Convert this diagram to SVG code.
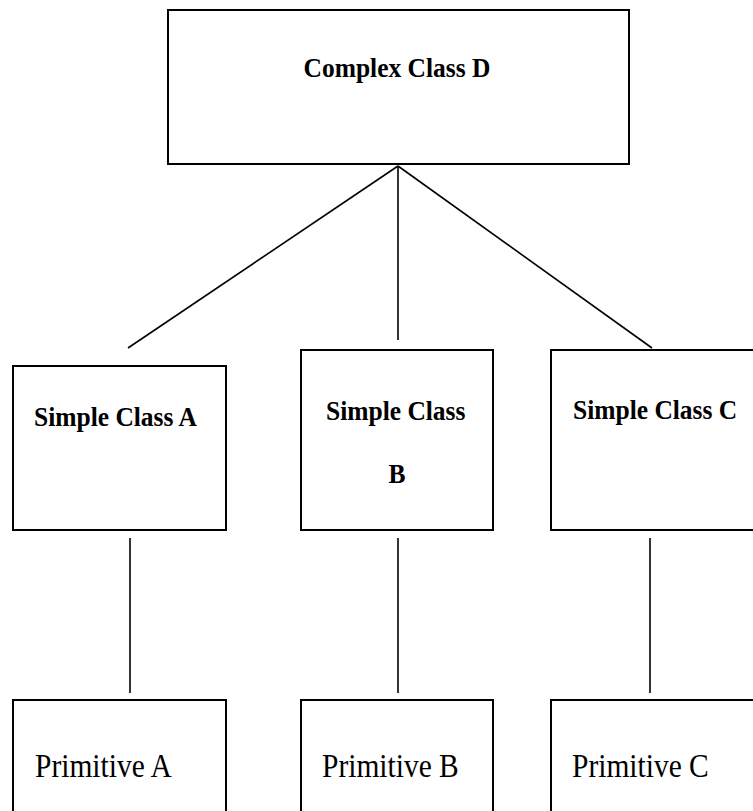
<svg xmlns="http://www.w3.org/2000/svg" width="753" height="811" viewBox="0 0 753 811">
  <style>
    .box { fill: #ffffff; stroke: #000000; stroke-width: 2; }
    .link { stroke: #000000; stroke-width: 1.6; fill: none; }
    .cls { font-family: "Liberation Serif", "Times New Roman", serif; font-weight: bold; font-size: 25.5px; fill: #000000; }
    .prim { font-family: "Liberation Serif", "Times New Roman", serif; font-size: 29.5px; fill: #000000; }
  </style>
  <rect width="753" height="811" fill="#ffffff"/>

  <!-- connectors -->
  <g id="connectors">
    <line class="link" x1="398" y1="166" x2="128" y2="348"/>
    <line class="link" x1="398" y1="166" x2="398" y2="340"/>
    <line class="link" x1="398" y1="166" x2="652" y2="348"/>
    <line class="link" x1="130" y1="538" x2="130" y2="693"/>
    <line class="link" x1="398" y1="538" x2="398" y2="693"/>
    <line class="link" x1="650" y1="538" x2="650" y2="693"/>
  </g>

  <g id="complex-d">
    <rect class="box" x="168" y="10" width="461" height="154"/>
    <text class="cls" transform="translate(397,77) scale(1,1.08)" text-anchor="middle">Complex Class D</text>
  </g>

  <g id="simple-a">
    <rect class="box" x="13" y="366" width="213" height="164"/>
    <text class="cls" transform="translate(34,426) scale(1,1.08)">Simple Class A</text>
  </g>

  <g id="simple-b">
    <rect class="box" x="301" y="350" width="192" height="180"/>
    <text class="cls" transform="translate(326,420) scale(1,1.08)">Simple Class</text>
    <text class="cls" transform="translate(397,483) scale(1,1.08)" text-anchor="middle">B</text>
  </g>

  <g id="simple-c">
    <rect class="box" x="551" y="350" width="210" height="180"/>
    <text class="cls" transform="translate(573,419) scale(1,1.08)">Simple Class C</text>
  </g>

  <g id="primitive-a">
    <rect class="box" x="13" y="700" width="213" height="130"/>
    <text class="prim" transform="translate(35,777) scale(1,1.15)">Primitive A</text>
  </g>

  <g id="primitive-b">
    <rect class="box" x="301" y="700" width="192" height="130"/>
    <text class="prim" transform="translate(322,777) scale(1,1.15)">Primitive B</text>
  </g>

  <g id="primitive-c">
    <rect class="box" x="551" y="700" width="210" height="130"/>
    <text class="prim" transform="translate(572,777) scale(1,1.15)">Primitive C</text>
  </g>
</svg>
